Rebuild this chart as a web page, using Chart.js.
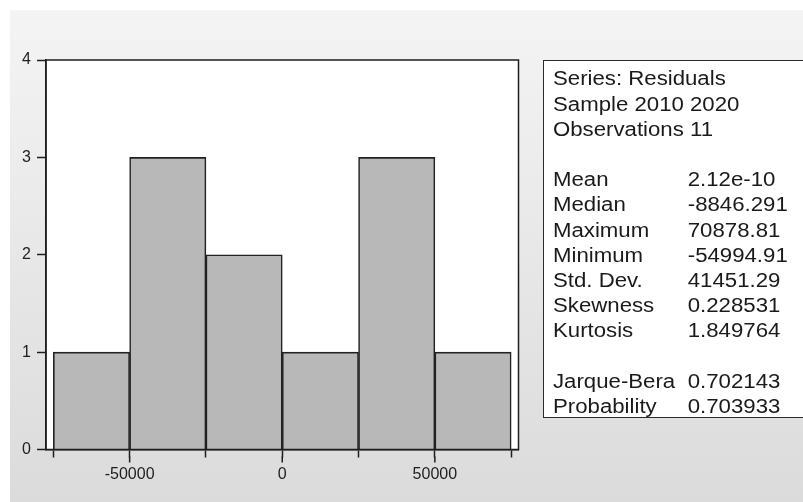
<!DOCTYPE html>
<html>
<head>
<meta charset="utf-8">
<script src="https://cdn.jsdelivr.net/npm/chart.js@4/dist/chart.umd.min.js"></script>
<style>
  html, body { margin: 0; padding: 0; background: #fff; }
  #wrap { position: relative; width: 803px; height: 502px; overflow: hidden; }
  #panel { position: absolute; left: 10px; top: 10px; right: 0; bottom: 0;
           background: linear-gradient(#f4f4f4, #dbdbdb); }
  #chart { position: absolute; left: 0; top: 0; }
  #stats { position: absolute; left: 542.5px; top: 60px; width: 300px; height: 358px;
           background: #fff; border: 1.5px solid #2b2b2b; box-sizing: border-box; }
  #rows { position: absolute; left: 553.3px; top: 66.4px; transform: scaleX(1.11);
          transform-origin: 0 0; font: 20px "Liberation Sans", Arial, sans-serif; color: #1a1a1a; }
  .row { position: relative; height: 25.2px; line-height: 25.2px; white-space: nowrap; }
  .row .v { position: absolute; left: 121.4px; top: 0; }
</style>
</head>
<body>
<div id="wrap">
  <div id="panel"></div>
  <canvas id="chart" width="803" height="502"></canvas>
  <div id="stats"></div>
  <div id="rows"></div>
</div>
<script>
// Histogram of residuals: bins of width 25000 and their counts
const binStarts = [-75000, -50000, -25000, 0, 25000, 50000];
const binWidth = 25000;
const counts = [1, 3, 2, 1, 3, 1];

// Axis ticks
const xTicks = [-75000, -50000, -25000, 0, 25000, 50000, 75000];
const xLabeled = [-50000, 0, 50000];
const yTicks = [0, 1, 2, 3, 4];

// Descriptive statistics
const headerLines = ['Series: Residuals', 'Sample 2010 2020', 'Observations 11'];
const statNames = ['Mean', 'Median', 'Maximum', 'Minimum', 'Std. Dev.', 'Skewness', 'Kurtosis'];
const statValues = ['2.12e-10', '-8846.291', '70878.81', '-54994.91', '41451.29', '0.228531', '1.849764'];
const testNames = ['Jarque-Bera', 'Probability'];
const testValues = ['0.702143', '0.703933'];

// Statistics panel text
const rowsEl = document.getElementById('rows');
function addRow(label, value) {
  const r = document.createElement('div');
  r.className = 'row';
  r.appendChild(document.createTextNode(label || '\u00a0'));
  if (value !== undefined) {
    const v = document.createElement('span');
    v.className = 'v';
    v.textContent = value;
    r.appendChild(v);
  }
  rowsEl.appendChild(r);
}
headerLines.forEach(t => addRow(t));
addRow('');
statNames.forEach((n, i) => addRow(n, statValues[i]));
addRow('');
testNames.forEach((n, i) => addRow(n, testValues[i]));

const FONT = '"Liberation Sans", Arial, sans-serif';
const INK = '#1e1e1e';

// White plot background, closed frame and longer labelled x ticks
const framePlugin = {
  id: 'frame',
  beforeDraw(chart) {
    const { ctx, chartArea: a } = chart;
    ctx.save();
    ctx.fillStyle = '#fff';
    ctx.fillRect(a.left, a.top, a.right - a.left, a.bottom - a.top);
    ctx.restore();
  },
  afterDraw(chart) {
    const { ctx, chartArea: a, scales } = chart;
    ctx.save();
    ctx.strokeStyle = INK;
    ctx.lineWidth = 1.5;
    ctx.strokeRect(a.left, a.top, a.right - a.left, a.bottom - a.top);
    ctx.beginPath();
    xLabeled.forEach(v => {
      const px = scales.x.getPixelForValue(v);
      ctx.moveTo(px, a.bottom + 7);
      ctx.lineTo(px, a.bottom + 13);
    });
    ctx.stroke();
    ctx.restore();
  }
};

new Chart(document.getElementById('chart'), {
  type: 'bar',
  data: {
    datasets: [{
      data: binStarts.map((s, i) => ({ x: s + binWidth / 2, y: counts[i] })),
      backgroundColor: '#b8b8b8',
      borderColor: '#222',
      borderWidth: 1.6,
      barPercentage: 1,
      categoryPercentage: 1
    }]
  },
  options: {
    responsive: false,
    animation: false,
    events: [],
    layout: { padding: { left: 0, top: 60, right: 284.5, bottom: 0 } },
    plugins: { legend: { display: false }, tooltip: { enabled: false } },
    scales: {
      x: {
        type: 'linear',
        offset: false,
        min: -77400,
        max: 77400,
        afterBuildTicks: s => { s.ticks = xTicks.map(v => ({ value: v })); },
        afterFit: s => { s.height = 52.5; },
        grid: { display: true, offset: false, drawOnChartArea: false, tickLength: 8, tickColor: INK, tickWidth: 1.5 },
        border: { display: true, color: INK, width: 1.5 },
        ticks: {
          autoSkip: false, maxRotation: 0, padding: 7, color: INK,
          font: { family: FONT, size: 16 },
          callback: v => xLabeled.includes(v) ? String(v) : ''
        }
      },
      y: {
        min: 0,
        max: 4,
        afterBuildTicks: s => { s.ticks = yTicks.map(v => ({ value: v })); },
        afterFit: s => { s.width = 46; },
        grid: { display: true, drawOnChartArea: false, tickLength: 9, tickColor: INK, tickWidth: 1.5 },
        border: { display: true, color: INK, width: 1.5 },
        ticks: {
          padding: 6, color: INK,
          font: { family: FONT, size: 16 },
          callback: v => String(v)
        }
      }
    }
  },
  plugins: [framePlugin]
});
</script>
</body>
</html>
